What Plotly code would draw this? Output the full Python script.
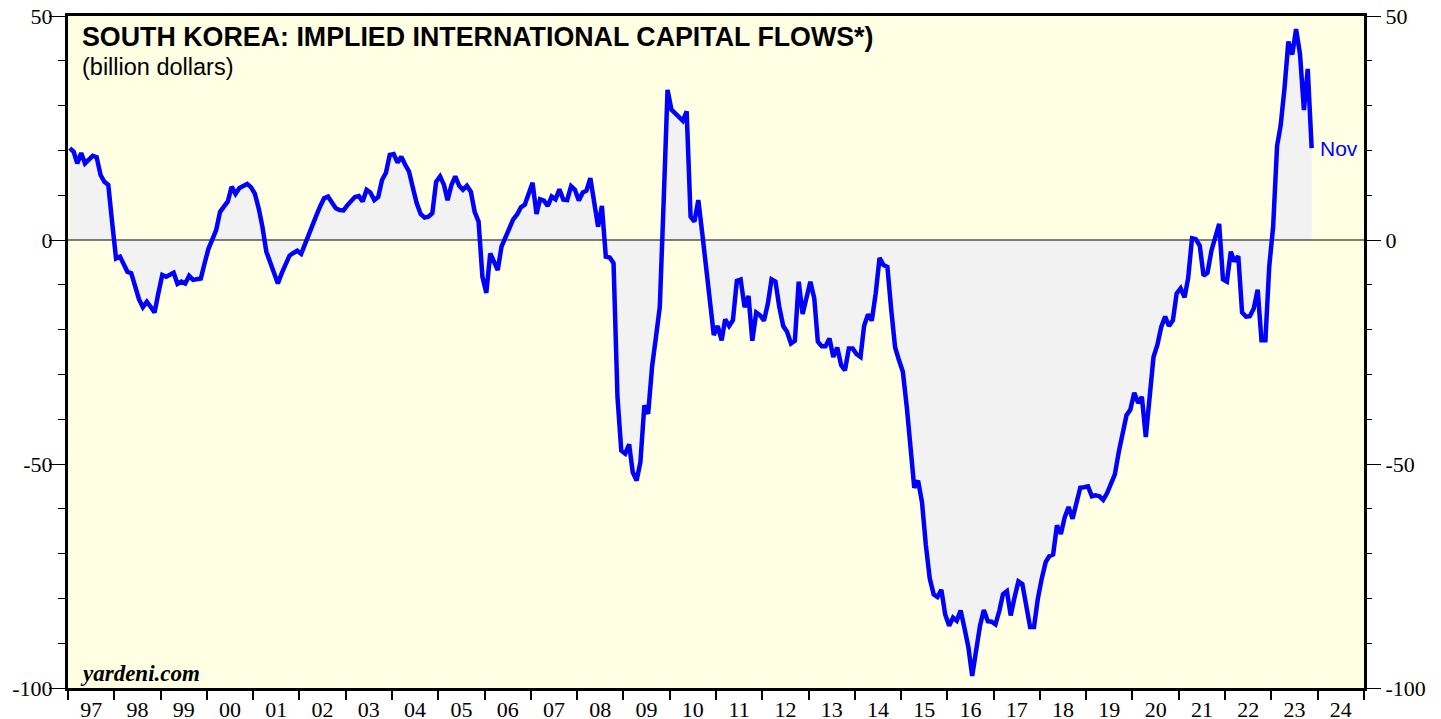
import plotly.graph_objects as go
import pandas as pd

# Monthly implied international capital flows, billion dollars
v1997 = [20.5, 19.7, 17.1, 19.4, 17.1, 17.9, 18.8, 18.5, 14.5, 13.0, 12.3, 4.0]
v1998 = [-4.1, -3.7, -5.5, -7.1, -7.4, -10.2, -13.2, -15.0, -13.8, -14.9, -16.2, -11.9]
v1999 = [-7.8, -8.2, -7.8, -7.3, -9.8, -9.3, -9.7, -8.0, -8.9, -8.8, -8.6, -5.2]
v2000 = [-1.9, 0.2, 2.2, 6.3, 7.5, 8.6, 11.9, 10.3, 11.6, 12.0, 12.5, 11.8]
v2001 = [10.3, 6.9, 3.0, -2.6, -5.0, -7.5, -9.7, -7.4, -5.2, -3.5, -2.9, -2.4]
v2002 = [-3.1, -0.7, 1.5, 3.3, 5.5, 7.6, 9.3, 9.7, 8.2, 7.1, 6.7, 6.6]
v2003 = [7.8, 8.6, 9.6, 9.8, 8.6, 11.2, 10.6, 8.9, 9.6, 13.4, 15.0, 19.0]
v2004 = [19.2, 17.3, 18.6, 16.8, 15.3, 11.6, 8.2, 5.8, 5.0, 5.2, 6.0, 13.0]
v2005 = [14.2, 12.3, 8.9, 12.3, 14.2, 12.1, 11.2, 12.1, 10.8, 6.3, 4.1, -8.2]
v2006 = [-11.8, -3.0, -4.8, -6.7, -1.5, 0.7, 2.3, 4.6, 5.7, 7.3, 7.9, 10.1]
v2007 = [12.8, 5.8, 9.1, 8.8, 7.6, 9.7, 9.1, 11.3, 9.0, 8.9, 12.0, 11.2]
v2008 = [8.8, 10.6, 11.0, 13.8, 7.8, 3.0, 7.6, -3.7, -3.9, -5.2, -35.0, -47.0]
v2009 = [-47.7, -45.6, -51.8, -53.7, -49.6, -36.9, -38.8, -28.3, -21.6, -14.9, 9.0, 33.5]
v2010 = [29.1, 28.3, 27.3, 26.6, 28.7, 5.2, 4.1, 8.9, 1.5, -5.5, -13.0, -21.2]
v2011 = [-19.2, -22.4, -17.7, -19.2, -17.9, -9.1, -8.8, -15.0, -12.5, -22.5, -16.2, -16.8]
v2012 = [-18.0, -14.2, -8.8, -9.3, -15.0, -19.2, -20.5, -23.1, -22.5, -9.3, -16.5, -12.7]
v2013 = [-9.3, -13.0, -22.7, -23.7, -23.7, -22.0, -26.1, -24.0, -27.9, -29.1, -24.2, -24.2]
v2014 = [-25.5, -26.1, -19.2, -16.6, -18.0, -11.9, -4.0, -5.6, -6.0, -15.5, -24.0, -26.8]
v2015 = [-29.4, -37.3, -47.0, -55.3, -53.7, -58.5, -68.0, -75.5, -79.1, -79.7, -78.1, -83.6]
v2016 = [-86.1, -84.3, -85.0, -82.7, -86.6, -90.9, -97.3, -92.0, -86.1, -82.6, -85.1, -85.2]
v2017 = [-85.8, -82.7, -79.1, -78.4, -83.8, -79.7, -76.2, -76.8, -81.5, -86.4, -86.4, -80.1]
v2018 = [-75.6, -71.9, -70.6, -70.2, -63.7, -65.6, -61.9, -59.6, -62.2, -58.9, -55.3, -55.2]
v2019 = [-55.0, -57.2, -57.0, -57.2, -58.0, -56.5, -54.3, -52.3, -47.3, -42.9, -39.1, -37.9]
v2020 = [-34.1, -36.4, -35.0, -44.0, -33.9, -26.1, -23.5, -19.4, -17.1, -19.2, -17.9, -11.9]
v2021 = [-10.8, -12.8, -8.6, 0.4, 0.2, -1.3, -8.0, -7.3, -2.4, 0.2, 3.6, -8.8]
v2022 = [-9.3, -2.6, -4.8, -3.6, -16.2, -17.1, -17.0, -15.3, -11.1, -22.4, -22.4, -6.0]
v2023 = [3.0, 21.0, 25.5, 34.0, 44.3, 41.4, 47.1, 41.5, 29.0, 38.2, 20.5]  # Jan-Nov

values = (v1997 + v1998 + v1999 + v2000 + v2001 + v2002 + v2003 + v2004 + v2005
          + v2006 + v2007 + v2008 + v2009 + v2010 + v2011 + v2012 + v2013 + v2014
          + v2015 + v2016 + v2017 + v2018 + v2019 + v2020 + v2021 + v2022 + v2023)
dates = pd.date_range("1997-01-01", periods=len(values), freq="MS") + pd.Timedelta(days=14)

X_RANGE = ["1997-01-01", "2025-01-01"]
Y_RANGE = [-100, 50]
YTICKS = [-100, -50, 0, 50]
YTICKTEXT = ["-100", "-50", "0", "50"]
YMINOR = [-90, -80, -70, -60, -40, -30, -20, -10, 10, 20, 30, 40]
LAST_LABEL = "Nov"

SERIF = "Liberation Serif, Times New Roman, serif"
SANS = "Liberation Sans, Arial, sans-serif"

fig = go.Figure()
# grey fill between the series and zero
fig.add_trace(go.Scatter(x=dates, y=values, mode="lines", line=dict(width=0, color="#F2F2F2"),
                         fill="tozeroy", fillcolor="#F2F2F2", hoverinfo="skip", showlegend=False))
# zero line
fig.add_trace(go.Scatter(x=X_RANGE, y=[0, 0], mode="lines", line=dict(color="black", width=1),
                         hoverinfo="skip", showlegend=False))
# main line
fig.add_trace(go.Scatter(x=dates, y=values, mode="lines", line=dict(color="#0000FF", width=4.5),
                         hoverinfo="skip", showlegend=False))
# helper for right axis
fig.add_trace(go.Scatter(x=X_RANGE, y=[0, 0], mode="lines", line=dict(width=0), yaxis="y2",
                         hoverinfo="skip", showlegend=False))

minor_y = dict(tickmode="array", tickvals=YMINOR, ticks="outside", ticklen=7,
               tickwidth=1, tickcolor="black", showgrid=False)

fig.update_layout(
    width=1441, height=719, autosize=False,
    margin=dict(l=68, r=77, t=16, b=31),
    paper_bgcolor="white", plot_bgcolor="#FFFFE4",
    showlegend=False,
    xaxis=dict(type="date", range=X_RANGE, tickmode="linear", tick0="1997-01-01", dtick="M12",
               tickformat="%y", ticklabelmode="period", ticks="outside", ticklen=9, tickwidth=2,
               tickcolor="black", showline=True, linewidth=3, linecolor="black", mirror=True,
               showgrid=False, zeroline=False, automargin=False, ticklabelstandoff=-9,
               ticklabeloverflow="allow",
               tickfont=dict(family=SERIF, size=22, color="black")),
    yaxis=dict(range=Y_RANGE, tickmode="array", tickvals=YTICKS, ticktext=YTICKTEXT,
               ticks="outside", ticklen=16, tickwidth=1, tickcolor="black", minor=minor_y,
               showline=True, linewidth=3, linecolor="black", mirror=True,
               showgrid=False, zeroline=False, automargin=False, ticklabelstandoff=-8,
               ticklabeloverflow="allow",
               tickfont=dict(family=SERIF, size=22, color="black")),
    yaxis2=dict(range=Y_RANGE, overlaying="y", side="right", tickmode="array",
                tickvals=YTICKS, ticktext=YTICKTEXT, ticks="outside", ticklen=16, tickwidth=1,
                tickcolor="black", minor=minor_y, ticklabeloverflow="allow",
                showline=False, showgrid=False, zeroline=False, automargin=False,
                tickfont=dict(family=SERIF, size=22, color="black")),
)

fig.add_annotation(text="<b>SOUTH KOREA: IMPLIED INTERNATIONAL CAPITAL FLOWS*)</b>",
                   xref="paper", yref="paper", x=0.0095, y=0.969, xanchor="left", yanchor="middle",
                   showarrow=False, font=dict(family=SANS, size=26.8, color="black"))
fig.add_annotation(text="(billion dollars)", xref="paper", yref="paper", x=0.0095, y=0.924,
                   xanchor="left", yanchor="middle", showarrow=False,
                   font=dict(family=SANS, size=23.5, color="black"))
fig.add_annotation(text="<b><i>yardeni.com</i></b>", xref="paper", yref="paper", x=0.008, y=0.022,
                   xanchor="left", yanchor="middle", showarrow=False,
                   font=dict(family=SERIF, size=23, color="black"))
fig.add_annotation(text=LAST_LABEL, x=dates[-1], y=values[-1], xref="x", yref="y",
                   xanchor="left", yanchor="middle", xshift=6, showarrow=False,
                   font=dict(family=SANS, size=21, color="#0000FF"))

# remove the default 8px page margin so the figure fills the window exactly
fig.write_html("out.html", config={"displayModeBar": False},
               post_script="document.body.style.margin='0';")
